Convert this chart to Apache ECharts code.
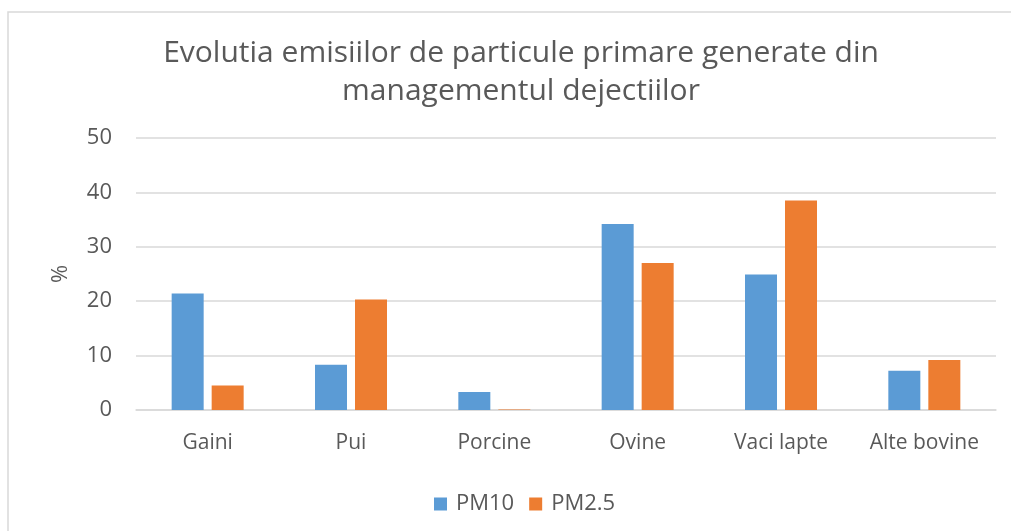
<!DOCTYPE html>
<html>
<head>
<meta charset="utf-8">
<script src="https://cdn.jsdelivr.net/npm/echarts@6/dist/echarts.min.js"></script>
<style>
  html, body { margin: 0; padding: 0; background: #fff; }
  #chart { width: 1011px; height: 531px; }
</style>
</head>
<body>
<div id="chart"></div>
<script>
// date
var categorii = ['Gaini', 'Pui', 'Porcine', 'Ovine', 'Vaci lapte', 'Alte bovine'];
var pm10 = [21.4, 8.3, 3.3, 34.2, 24.9, 7.2];
var pm25 = [4.5, 20.3, 0.1, 27.0, 38.5, 9.2];
var yTicks = [0, 10, 20, 30, 40, 50];

var font = "'Open Sans', 'Noto Sans', sans-serif";
var gri = '#595959';

var chart = echarts.init(document.getElementById('chart'));

var option = {
    backgroundColor: '#fff',
    animation: false,
    graphic: [{
        type: 'rect',
        shape: { x: 8, y: 12, width: 1100, height: 600 },
        style: { fill: 'none', stroke: '#d9d9d9', lineWidth: 1.5 },
        silent: true
    }],
    title: {
        text: 'Evolutia emisiilor de particule primare generate din\nmanagementul dejectiilor',
        left: 516,
        top: 29,
        textAlign: 'center',
        textStyle: {
            fontFamily: font,
            fontSize: 30,
            fontWeight: 'normal',
            color: gri,
            lineHeight: 38
        }
    },
    legend: {
        data: ['PM10', 'PM2.5'],
        left: 429,
        top: 488,
        itemWidth: 13,
        itemHeight: 13,
        itemGap: 15,
        icon: 'rect',
        textStyle: { fontFamily: font, fontSize: 22, color: gri, padding: [0, 0, 0, 4] }
    },
    grid: { left: 136, right: 15, top: 138, bottom: 121 },
    xAxis: {
        type: 'category',
        data: categorii,
        axisLine: { lineStyle: { color: '#d9d9d9', width: 1.5 } },
        axisTick: { show: false },
        axisLabel: { fontFamily: font, fontSize: 21, color: gri, margin: 23 }
    },
    yAxis: {
        type: 'value',
        min: yTicks[0],
        max: yTicks[yTicks.length - 1],
        interval: 10,
        name: '%',
        nameLocation: 'middle',
        nameGap: 64,
        nameRotate: 90,
        nameTextStyle: { fontFamily: font, fontSize: 22, color: gri },
        axisLine: { show: false },
        axisTick: { show: false },
        axisLabel: { fontFamily: font, fontSize: 22, color: gri, margin: 24 },
        splitLine: { lineStyle: { color: '#d9d9d9', width: 1.5 } }
    },
    series: [{
        name: 'PM10',
        type: 'bar',
        data: pm10,
        barWidth: 32,
        barGap: '25%',
        itemStyle: { color: '#5b9bd5' }
    }, {
        name: 'PM2.5',
        type: 'bar',
        data: pm25,
        barWidth: 32,
        barGap: '25%',
        itemStyle: { color: '#ed7d31' }
    }]
};

chart.setOption(option);
</script>
</body>
</html>
